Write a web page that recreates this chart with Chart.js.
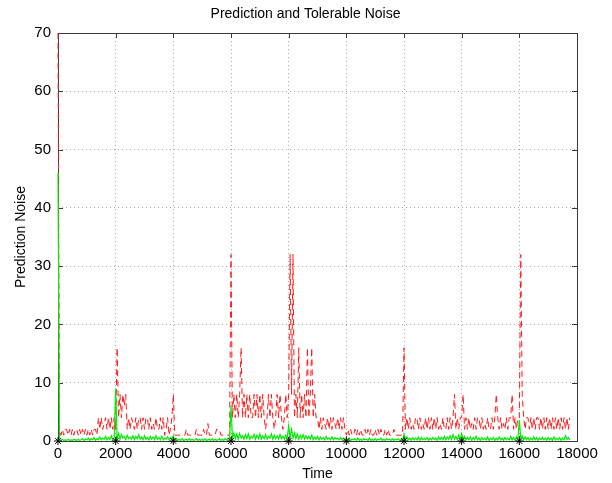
<!DOCTYPE html>
<html>
<head>
<meta charset="utf-8">
<script src="https://cdn.jsdelivr.net/npm/chart.js@4"></script>
<style>
  body { margin: 0; background: #fff; }
</style>
</head>
<body>
<canvas id="noiseChart" width="612" height="483"></canvas>
<script>
// tick values of both axes
const timeTicks = [0, 2000, 4000, 6000, 8000, 10000, 12000, 14000, 16000, 18000];
const noiseTicks = [0, 10, 20, 30, 40, 50, 60, 70];

// tolerable noise (red dashed), one sample every 50 time units
const tolStep = 50;
const tolerableNoise = [
  70, 2, 1, 2, 1, 2, 2, 1, 2, 1, 2, 1, 2, 2, 1, 2, 1, 2, 1, 2,
  1, 2, 1, 2, 1, 2, 2, 1, 4, 2, 4, 2, 3, 4, 2, 4, 2, 4, 2, 4,
  2, 16, 4, 8, 4, 8, 6, 8, 2, 4, 2, 4, 3, 2, 4, 2, 4, 4, 2, 4,
  2, 4, 4, 2, 4, 2, 3, 2, 4, 2, 2, 4, 2, 4, 1, 2, 4, 1, 2, 4,
  8, 1, 1, 1, 1, 1, 1, 1, 1, 2, 1, 1, 1, 1, 1, 1, 2, 1, 1, 1,
  1, 2, 1, 1, 3, 1, 1, 1, 1, 1, 2, 2, 2, 1, 1, 1, 1, 1, 1, 1,
  32, 4, 8, 4, 8, 4, 8, 16, 4, 8, 4, 8, 4, 8, 4, 4, 8, 4, 8, 4,
  8, 4, 8, 4, 2, 4, 8, 4, 8, 4, 2, 4, 8, 4, 8, 4, 2, 4, 8, 4,
  8, 32, 8, 32, 4, 8, 4, 16, 4, 8, 4, 8, 4, 16, 4, 8, 16, 4, 8, 4,
  4, 2, 4, 2, 4, 3, 2, 4, 2, 4, 2, 4, 3, 2, 4, 2, 4, 2, 4, 2,
  1, 2, 1, 2, 1, 1, 2, 1, 2, 1, 2, 1, 1, 2, 1, 2, 1, 2, 1, 1,
  2, 1, 2, 1, 2, 1, 1, 2, 1, 2, 1, 1, 1, 2, 1, 1, 1, 1, 1, 1,
  16, 2, 4, 2, 4, 2, 3, 2, 4, 4, 2, 4, 2, 3, 2, 4, 2, 4, 2, 4,
  2, 4, 2, 4, 2, 3, 2, 4, 2, 2, 4, 2, 4, 2, 4, 8, 2, 4, 2, 4,
  4, 8, 2, 4, 2, 4, 2, 3, 2, 4, 2, 4, 4, 2, 4, 2, 3, 2, 4, 2,
  2, 4, 2, 4, 8, 4, 2, 4, 2, 3, 2, 4, 2, 4, 4, 8, 2, 4, 2, 4,
  4, 32, 8, 4, 2, 4, 4, 2, 4, 2, 4, 2, 4, 4, 2, 4, 2, 4, 2, 4,
  2, 4, 2, 4, 2, 4, 2, 4, 2, 4, 2, 4, 2, 4, 2, 4
];

// prediction noise (green), one sample every 50 time units
const predStep = 50;
const predictionNoise = [
  46, 0.2, 0.1, 0.3, 0.1, 0.2, 0.1, 0.3, 0.1, 0.2, 0.1, 0.3, 0.2, 0.1, 0.3, 0.1, 0.2, 0.4, 0.1, 0.3,
  0.2, 0.5, 0.1, 0.4, 0.2, 0.6, 0.1, 0.4, 0.2, 0.7, 0.2, 0.5, 0.3, 0.8, 0.2, 0.6, 0.3, 0.9, 0.2, 0.6,
  9, 0.4, 1.3, 0.3, 1.1, 0.5, 0.8, 0.2, 1, 0.4, 0.7, 0.3, 0.9, 0.2, 0.8, 0.4, 1.1, 0.3, 0.7, 0.2,
  0.9, 0.3, 0.6, 0.2, 0.8, 0.3, 0.7, 0.2, 0.9, 0.3, 0.6, 0.2, 0.8, 0.2, 0.5, 0.3, 0.7, 0.2, 0.6, 0.3,
  0.9, 0.2, 0.4, 0.1, 0.3, 0.1, 0.4, 0.1, 0.2, 0.3, 0.1, 0.4, 0.1, 0.3, 0.1, 0.2, 0.4, 0.1, 0.3, 0.1,
  0.3, 0.1, 0.4, 0.1, 0.2, 0.3, 0.1, 0.4, 0.1, 0.3, 0.1, 0.2, 0.4, 0.1, 0.3, 0.1, 0.4, 0.2, 0.5, 0.2,
  6, 0.5, 1.4, 0.4, 1.2, 0.3, 1.3, 0.5, 0.9, 0.3, 1.1, 0.4, 1.2, 0.3, 0.8, 0.5, 1.1, 0.3, 1, 0.4,
  1.2, 0.3, 0.9, 0.4, 1.1, 0.3, 0.8, 0.5, 1.2, 0.3, 1, 0.4, 0.9, 0.3, 1.1, 0.4, 0.8, 0.3, 1, 0.5,
  2.6, 0.6, 2, 0.5, 1.4, 0.4, 1.2, 0.3, 1, 0.4, 1.1, 0.3, 0.9, 0.4, 0.8, 0.3, 1, 0.2, 0.7, 0.3,
  0.8, 0.2, 0.7, 0.3, 0.6, 0.2, 0.8, 0.3, 0.5, 0.2, 0.7, 0.2, 0.6, 0.3, 0.5, 0.2, 0.6, 0.2, 0.5, 0.2,
  0.4, 0.1, 0.5, 0.1, 0.3, 0.2, 0.4, 0.1, 0.5, 0.1, 0.3, 0.1, 0.4, 0.2, 0.3, 0.1, 0.5, 0.1, 0.3, 0.1,
  0.4, 0.1, 0.3, 0.2, 0.5, 0.1, 0.3, 0.1, 0.4, 0.2, 0.3, 0.1, 0.4, 0.1, 0.3, 0.2, 0.4, 0.1, 0.3, 0.1,
  1.2, 0.2, 0.7, 0.2, 0.5, 0.1, 0.6, 0.2, 0.5, 0.2, 0.7, 0.1, 0.6, 0.2, 0.5, 0.2, 0.6, 0.1, 0.5, 0.2,
  0.6, 0.2, 0.5, 0.1, 0.7, 0.2, 0.6, 0.2, 0.8, 0.2, 0.7, 0.3, 0.9, 0.2, 1.1, 0.3, 0.8, 0.2, 1, 0.3,
  1.3, 0.3, 0.8, 0.2, 0.6, 0.2, 0.7, 0.1, 0.6, 0.2, 0.8, 0.2, 0.5, 0.1, 0.6, 0.2, 0.5, 0.2, 0.7, 0.1,
  0.5, 0.2, 0.6, 0.1, 0.5, 0.2, 0.7, 0.2, 0.5, 0.1, 0.6, 0.2, 0.5, 0.2, 0.8, 0.2, 0.6, 0.1, 0.7, 0.3,
  3.6, 0.4, 0.9, 0.2, 0.7, 0.2, 0.6, 0.1, 0.5, 0.2, 0.7, 0.2, 0.6, 0.1, 0.5, 0.2, 0.6, 0.2, 0.5, 0.1,
  0.6, 0.2, 0.5, 0.1, 0.7, 0.2, 0.5, 0.2, 0.6, 0.1, 0.5, 0.2, 0.9, 0.3, 0.6, 0.2
];

// black asterisks on the time axis
const markerTimes = [0, 2000, 4000, 6000, 8000, 10000, 12000, 14000, 16000];

const chartTitle = 'Prediction and Tolerable Noise';

const tolPoints = tolerableNoise.map((v, i) => ({ x: i * tolStep, y: v }));
const predPoints = predictionNoise.map((v, i) => ({ x: i * predStep, y: v }));
const markerPoints = markerTimes.map(t => ({ x: t, y: 0 }));

// white background, title, axes box and inward tick marks like matlab
const matlabBox = {
  id: 'matlabBox',
  beforeDraw(chart) {
    const c = chart.ctx;
    c.save();
    c.fillStyle = '#fff';
    c.fillRect(0, 0, chart.width, chart.height);
    c.restore();
  },
  beforeDatasetsDraw(chart) {
    const c = chart.ctx;
    const a = chart.chartArea;
    const xs = chart.scales.x, ys = chart.scales.y;
    c.save();
    c.strokeStyle = '#3a3a3a';
    c.lineWidth = 1;
    c.beginPath();
    xs.ticks.forEach(t => {
      const px = Math.round(xs.getPixelForValue(t.value)) + 0.5;
      c.moveTo(px, a.bottom); c.lineTo(px, a.bottom - 5);
      c.moveTo(px, a.top); c.lineTo(px, a.top + 5);
    });
    ys.ticks.forEach(t => {
      const py = Math.round(ys.getPixelForValue(t.value)) + 0.5;
      c.moveTo(a.left, py); c.lineTo(a.left + 5, py);
      c.moveTo(a.right, py); c.lineTo(a.right - 5, py);
    });
    c.stroke();
    c.strokeRect(Math.round(a.left) + 0.5, Math.round(a.top) + 0.5,
      Math.round(a.right - a.left), Math.round(a.bottom - a.top));

    // title centred over the plot like matlab does
    c.fillStyle = '#000';
    c.font = '14px "Liberation Sans"';
    c.textAlign = 'center';
    c.textBaseline = 'middle';
    c.fillText(chartTitle, (a.left + a.right) / 2 - 12, 14);
    c.restore();
  }
};

const ctx = document.getElementById('noiseChart').getContext('2d');
new Chart(ctx, {
  type: 'line',
  data: {
    datasets: [
      {
        label: 'markers',
        data: markerPoints,
        showLine: false,
        pointStyle: 'star',
        pointRadius: 4,
        borderColor: '#000',
        borderWidth: 1,
        clip: false,
        order: 0
      },
      {
        label: 'Prediction Noise',
        data: predPoints,
        borderColor: '#00ee00',
        borderWidth: 1.2,
        pointRadius: 0,
        tension: 0,
        clip: 2,
        order: 1
      },
      {
        label: 'Tolerable Noise',
        data: tolPoints,
        borderColor: '#ff1a1a',
        borderWidth: 1,
        borderDash: [6, 4],
        pointRadius: 0,
        tension: 0,
        clip: 2,
        order: 2
      }
    ]
  },
  options: {
    responsive: false,
    animation: false,
    layout: { padding: { left: 0, right: 35, top: 33, bottom: 0 } },
    plugins: {
      legend: { display: false },
      tooltip: { enabled: false }
    },
    scales: {
      x: {
        type: 'linear',
        min: 0,
        max: 18000,
        afterBuildTicks: s => { s.ticks = timeTicks.map(v => ({ value: v })); },
        afterFit: s => { s.height = 42; },
        ticks: {
          color: '#000',
          font: { family: 'Liberation Sans', size: 15 },
          padding: 4,
          maxRotation: 0,
          autoSkip: false,
          callback: v => String(v)
        },
        grid: { color: '#a8a8a8', drawTicks: false },
        border: { display: false, dash: [1, 3] },
        title: {
          display: true,
          text: 'Time',
          color: '#000',
          font: { family: 'Liberation Sans', size: 14 },
          padding: { top: 0, bottom: 0 }
        }
      },
      y: {
        min: 0,
        max: 70,
        afterBuildTicks: s => { s.ticks = noiseTicks.map(v => ({ value: v })); },
        afterFit: s => { s.width = 58; },
        ticks: {
          color: '#000',
          font: { family: 'Liberation Sans', size: 15 },
          padding: 7
        },
        grid: { color: '#a8a8a8', drawTicks: false },
        border: { display: false, dash: [1, 3] },
        title: {
          display: true,
          text: 'Prediction Noise',
          color: '#000',
          font: { family: 'Liberation Sans', size: 14 },
          padding: { top: 13, bottom: 0 }
        }
      }
    }
  },
  plugins: [matlabBox]
});
</script>
</body>
</html>
